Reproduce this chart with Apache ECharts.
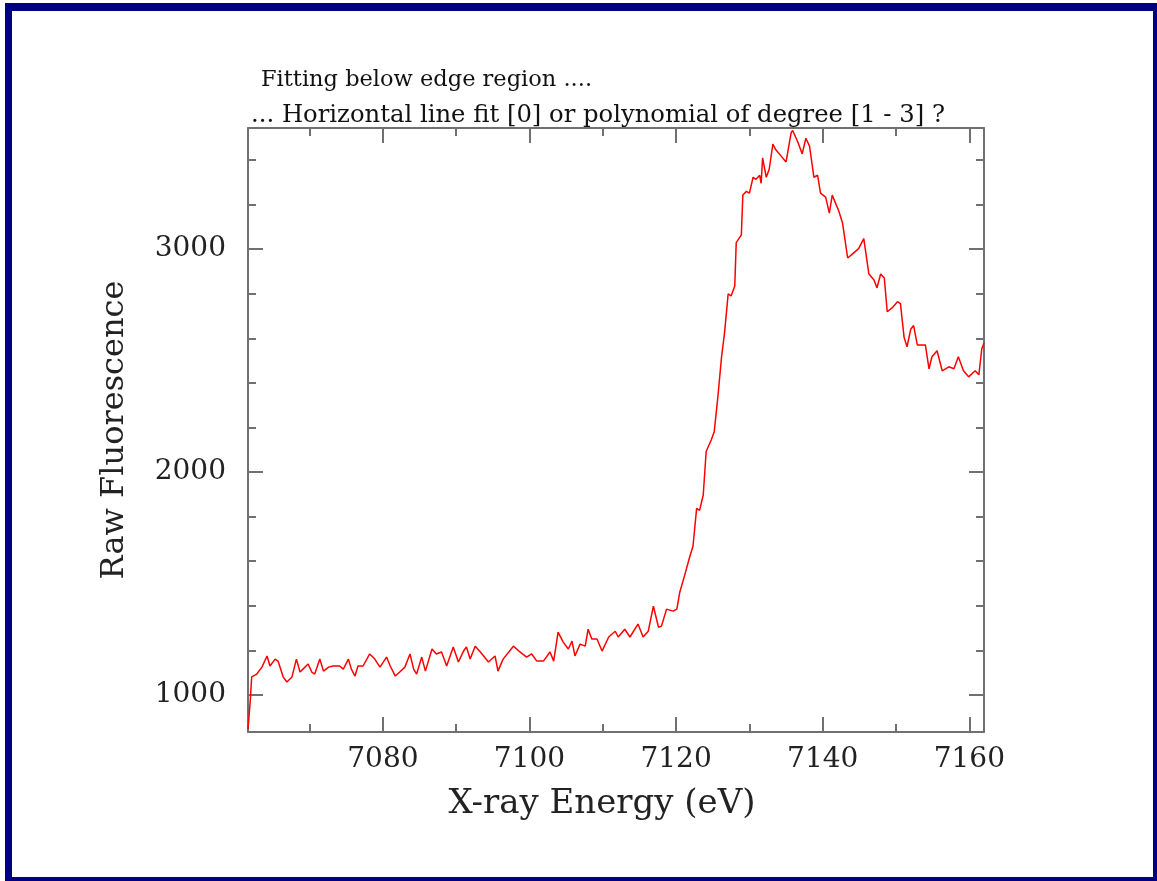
<!DOCTYPE html>
<html>
<head>
<meta charset="utf-8">
<script src="https://cdn.jsdelivr.net/npm/echarts@6/dist/echarts.min.js"></script>
<style>
html,body{margin:0;padding:0;background:#fff;}
#chart{width:1157px;height:881px;}
</style>
</head>
<body>
<div id="chart"></div>
<script>
// ---- data ----
const energies = [7061.6,7061.9,7062.1,7062.8,7063.5,7064.2,7064.6,7065.3,7065.7,7066.4,
7066.9,7067.6,7068.2,7068.7,7069.1,7069.8,7070.3,7070.7,7071.4,7071.9,
7072.6,7073.2,7074.1,7074.6,7075.3,7075.7,7076.2,7076.6,7077.3,7078.2,
7078.9,7079.6,7080.5,7081.0,7081.7,7082.3,7083.0,7083.7,7084.2,7084.6,
7085.3,7085.8,7086.7,7087.3,7088.0,7088.7,7089.6,7090.3,7091.0,7091.4,
7091.9,7092.6,7093.3,7094.4,7095.3,7095.7,7096.4,7097.8,7098.7,7099.6,
7100.3,7101.0,7101.9,7102.8,7103.3,7103.9,7104.6,7105.3,7105.8,7106.2,
7106.9,7107.6,7108.0,7108.5,7109.2,7109.9,7110.8,7111.7,7112.1,7113.0,
7113.7,7114.8,7115.5,7116.2,7116.9,7117.6,7118.0,7118.7,7119.6,7120.1,
7120.5,7121.2,7121.8,7122.3,7122.8,7123.2,7123.7,7124.1,7124.8,7125.2,
7125.7,7126.2,7126.6,7127.1,7127.5,7128.0,7128.2,7128.9,7129.1,7129.6,
7130.0,7130.5,7130.9,7131.4,7131.6,7131.8,7132.3,7132.7,7133.2,7133.6,
7134.3,7135.0,7135.7,7135.9,7136.6,7137.2,7137.7,7138.2,7138.8,7139.3,
7139.7,7140.4,7140.9,7141.3,7142.2,7142.7,7143.4,7144.0,7144.9,7145.6,
7146.3,7147.0,7147.4,7147.9,7148.4,7148.8,7149.5,7150.2,7150.6,7151.1,
7151.5,7152.0,7152.4,7152.9,7153.6,7154.0,7154.5,7154.9,7155.6,7156.3,
7157.2,7157.9,7158.5,7159.2,7159.9,7160.8,7161.3,7161.7,7162.0];

const fluorescence = [848,969,1081,1094,1125,1175,1130,1161,1152,1081,
1058,1081,1161,1103,1116,1139,1103,1094,1161,1107,
1125,1130,1130,1116,1161,1116,1085,1130,1130,1184,
1161,1125,1170,1130,1085,1103,1125,1184,1116,1094,
1170,1107,1206,1184,1193,1130,1215,1148,1197,1215,
1161,1219,1193,1148,1175,1107,1161,1219,1193,1170,
1184,1152,1152,1193,1152,1282,1237,1206,1242,1175,
1228,1219,1295,1251,1251,1197,1260,1286,1260,1295,
1260,1318,1260,1286,1398,1304,1309,1385,1376,1385,
1461,1541,1613,1667,1837,1828,1897,2092,2145,2181,
2338,2517,2622,2799,2790,2834,3029,3064,3242,3259,
3251,3322,3313,3331,3295,3409,3322,3358,3471,3445,
3418,3391,3523,3532,3480,3427,3497,3462,3322,3331,
3251,3233,3161,3242,3170,3117,2960,2976,3002,3047,
2888,2861,2826,2888,2870,2719,2737,2764,2755,2604,
2562,2640,2657,2570,2570,2570,2463,2517,2544,2454,
2472,2463,2517,2454,2427,2454,2436,2553,2579];

const xMajorTicks = [7080,7100,7120,7140,7160];
const xMinorTicks = [7070,7090,7110,7130,7150];
const yMajorTicks = [1000,2000,3000];
const yMinorTicks = [1200,1400,1600,1800,2200,2400,2600,2800,3200,3400];

const titleLine1 = 'Fitting below edge region ....';
const titleLine2 = '... Horizontal line fit [0] or polynomial of degree [1 - 3] ?';
const xTitle = 'X-ray Energy (eV)';
const yTitle = 'Raw Fluorescence';

// ---- chart ----
const X_MIN = 7061.6, X_MAX = 7162.0, Y_MIN = 834, Y_MAX = 3543;
const AX = '#707070';
const FONT = 'DejaVu Serif';

function xAx(pos, ticks, len, showLine, showLabel) {
  return {
    type: 'value', position: pos, min: X_MIN, max: X_MAX,
    axisLine: { show: showLine, onZero: false, lineStyle: { color: AX, width: 2 } },
    axisTick: { show: true, inside: true, length: len, customValues: ticks, lineStyle: { color: AX, width: 2 } },
    axisLabel: { show: showLabel, customValues: ticks, margin: 14, color: '#222', fontFamily: FONT, fontSize: 28,
                 formatter: v => String(Math.round(v)) },
    splitLine: { show: false }
  };
}
function yAx(pos, ticks, len, showLine, showLabel) {
  return {
    type: 'value', position: pos, min: Y_MIN, max: Y_MAX,
    axisLine: { show: showLine, onZero: false, lineStyle: { color: AX, width: 2 } },
    axisTick: { show: true, inside: true, length: len, customValues: ticks, lineStyle: { color: AX, width: 2 } },
    axisLabel: { show: showLabel, customValues: ticks, margin: 22, color: '#222', fontFamily: FONT, fontSize: 28,
                 formatter: v => String(Math.round(v)) },
    splitLine: { show: false }
  };
}

const xBottom = xAx('bottom', xMajorTicks, 15, true, true);
xBottom.name = xTitle;
xBottom.nameLocation = 'middle';
xBottom.nameGap = 55;
xBottom.nameTextStyle = { color: '#222', fontFamily: FONT, fontSize: 34, padding: [0, 28, 0, 0] };

const yLeft = yAx('left', yMajorTicks, 15, true, true);
yLeft.name = yTitle;
yLeft.nameLocation = 'middle';
yLeft.nameGap = 117;
yLeft.nameTextStyle = { color: '#222', fontFamily: FONT, fontSize: 32 };

const chart = echarts.init(document.getElementById('chart'), null, { renderer: 'canvas' });
chart.setOption({
  backgroundColor: '#fff',
  animation: false,
  title: [
    { text: titleLine1, left: 256, top: 64, textStyle: { fontFamily: FONT, fontSize: 22.5, fontWeight: 'normal', color: '#111' } },
    { text: titleLine2, left: 246, top: 99, textStyle: { fontFamily: FONT, fontSize: 24.3, fontWeight: 'normal', color: '#111' } }
  ],
  grid: { left: 248, top: 128, right: 173, bottom: 149, containLabel: false },
  xAxis: [
    xBottom,
    xAx('bottom', xMinorTicks, 8, false, false),
    xAx('top', xMajorTicks, 15, true, false),
    xAx('top', xMinorTicks, 8, false, false)
  ],
  yAxis: [
    yLeft,
    yAx('left', yMinorTicks, 8, false, false),
    yAx('right', yMajorTicks, 15, true, false),
    yAx('right', yMinorTicks, 8, false, false)
  ],
  series: [{
    type: 'line',
    xAxisIndex: 0, yAxisIndex: 0,
    data: energies.map((e, i) => [e, fluorescence[i]]),
    showSymbol: false,
    clip: true,
    lineStyle: { color: '#ff0000', width: 1.5 },
    itemStyle: { color: '#ff0000' }
  }],
  graphic: [
    { type: 'rect', shape: { x: 5, y: 3, width: 1152, height: 8 }, style: { fill: '#000080' }, silent: true },
    { type: 'rect', shape: { x: 5, y: 3, width: 7, height: 878 }, style: { fill: '#000080' }, silent: true },
    { type: 'rect', shape: { x: 1153, y: 3, width: 4, height: 878 }, style: { fill: '#000080' }, silent: true },
    { type: 'rect', shape: { x: 5, y: 877, width: 1152, height: 4 }, style: { fill: '#000080' }, silent: true }
  ]
});
</script>
</body>
</html>
